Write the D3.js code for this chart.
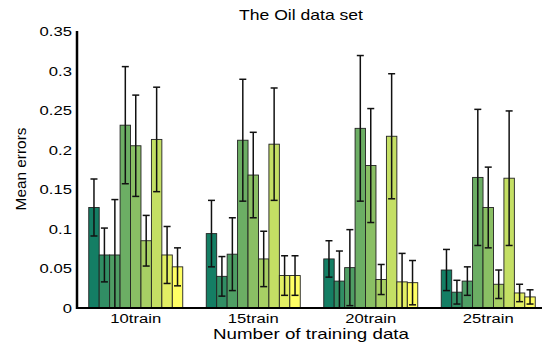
<!DOCTYPE html>
<html>
<head>
<meta charset="utf-8">
<script src="https://cdn.jsdelivr.net/npm/d3@7"></script>
<style>
  body { margin: 0; background: #fff; }
  svg { display: block; font-family: "Liberation Sans", Arial, sans-serif; }
</style>
</head>
<body>
<svg id="chart" width="542" height="345"></svg>
<script>
// groups on the x axis
var groups = ['10train', '15train', '20train', '25train'];

// mean errors, one array per method (9 methods)
var m1 = [0.127, 0.094, 0.062, 0.048];
var m2 = [0.067, 0.040, 0.034, 0.020];
var m3 = [0.067, 0.068, 0.051, 0.034];
var m4 = [0.231, 0.212, 0.227, 0.165];
var m5 = [0.205, 0.168, 0.180, 0.127];
var m6 = [0.085, 0.062, 0.036, 0.030];
var m7 = [0.213, 0.207, 0.217, 0.164];
var m8 = [0.067, 0.041, 0.033, 0.019];
var m9 = [0.052, 0.041, 0.032, 0.014];

// error half-widths
var e1 = [0.036, 0.042, 0.023, 0.026];
var e2 = [0.034, 0.025, 0.038, 0.015];
var e3 = [0.070, 0.046, 0.048, 0.018];
var e4 = [0.074, 0.077, 0.092, 0.086];
var e5 = [0.064, 0.054, 0.072, 0.051];
var e6 = [0.032, 0.035, 0.019, 0.018];
var e7 = [0.066, 0.071, 0.079, 0.085];
var e8 = [0.036, 0.025, 0.036, 0.011];
var e9 = [0.024, 0.025, 0.028, 0.009];

var yTicks = [0, 0.05, 0.1, 0.15, 0.2, 0.25, 0.3, 0.35];

var means = [m1, m2, m3, m4, m5, m6, m7, m8, m9];
var errs = [e1, e2, e3, e4, e5, e6, e7, e8, e9];
var nSeries = means.length;

var svg = d3.select('#chart');

// plot area
var plotLeft = 77, plotRight = 547, plotTop = 31, plotBottom = 308;

var x = d3.scaleLinear().domain([0.5, 4.5]).range([plotLeft, plotRight]);
var y = d3.scaleLinear().domain([0, 0.35]).range([plotBottom, plotTop]);

// summer colormap
var color = function(i) {
  var t = i / (nSeries - 1);
  return d3.rgb(20 + 235 * t, 126 + 129 * (t), 100).toString();
};

var groupWidth = 0.8;
var barW = groupWidth / nSeries;

// the original figure text is stretched sideways
function stretch(sel, k) {
  sel.each(function() {
    var len = this.getComputedTextLength();
    d3.select(this)
      .attr('textLength', len * k)
      .attr('lengthAdjust', 'spacingAndGlyphs');
  });
}

svg.append('clipPath').attr('id', 'plotClip')
  .append('rect')
  .attr('x', plotLeft).attr('y', plotTop)
  .attr('width', plotRight - plotLeft).attr('height', plotBottom - plotTop);

var plot = svg.append('g').attr('clip-path', 'url(#plotClip)');

// flatten into bar records
var bars = [];
means.forEach(function(series, s) {
  series.forEach(function(v, g) {
    bars.push({ s: s, g: g, v: v, e: errs[s][g] });
  });
});

function barX(d) {
  return (d.g + 1) - groupWidth / 2 + d.s * barW;
}

plot.selectAll('rect.bar')
  .data(bars)
  .enter()
  .append('rect')
  .attr('class', 'bar')
  .attr('x', function(d) { return x(barX(d)); })
  .attr('width', function(d) { return x(barX(d) + barW) - x(barX(d)); })
  .attr('y', function(d) { return y(d.v); })
  .attr('height', function(d) { return y(0) - y(d.v); })
  .attr('fill', function(d) { return color(d.s); })
  .attr('stroke', '#222')
  .attr('stroke-width', 0.9);

// error bars
var cap = 3.5;
var eb = plot.selectAll('g.err')
  .data(bars)
  .enter()
  .append('g')
  .attr('class', 'err')
  .attr('stroke', '#111')
  .attr('stroke-width', 1.5);

eb.append('line')
  .attr('x1', function(d) { return x(barX(d) + barW / 2); })
  .attr('x2', function(d) { return x(barX(d) + barW / 2); })
  .attr('y1', function(d) { return y(d.v - d.e); })
  .attr('y2', function(d) { return y(d.v + d.e); });

eb.append('line')
  .attr('x1', function(d) { return x(barX(d) + barW / 2) - cap; })
  .attr('x2', function(d) { return x(barX(d) + barW / 2) + cap; })
  .attr('y1', function(d) { return y(d.v + d.e); })
  .attr('y2', function(d) { return y(d.v + d.e); });

eb.append('line')
  .attr('x1', function(d) { return x(barX(d) + barW / 2) - cap; })
  .attr('x2', function(d) { return x(barX(d) + barW / 2) + cap; })
  .attr('y1', function(d) { return y(d.v - d.e); })
  .attr('y2', function(d) { return y(d.v - d.e); });

// axes lines
svg.append('line')
  .attr('x1', plotLeft).attr('x2', plotLeft)
  .attr('y1', plotTop).attr('y2', plotBottom + 1)
  .attr('stroke', '#000').attr('stroke-width', 2.5);
svg.append('line')
  .attr('x1', plotLeft - 1).attr('x2', plotRight)
  .attr('y1', plotBottom).attr('y2', plotBottom)
  .attr('stroke', '#000').attr('stroke-width', 2.2);

// y tick labels
svg.selectAll('text.ytick')
  .data(yTicks)
  .enter()
  .append('text')
  .attr('class', 'ytick')
  .attr('x', plotLeft - 5)
  .attr('y', function(d) { return y(d) + 5; })
  .attr('text-anchor', 'end')
  .attr('font-size', '12.5px')
  .text(function(d) { return d === 0 ? '0' : String(d); })
  .call(stretch, 1.33);

// x tick labels
svg.selectAll('text.xtick')
  .data(groups)
  .enter()
  .append('text')
  .attr('class', 'xtick')
  .attr('x', function(d, i) { return x(i + 1); })
  .attr('y', 323)
  .attr('text-anchor', 'middle')
  .attr('font-size', '12.5px')
  .text(function(d) { return d; })
  .call(stretch, 1.33);

// title and axis labels
svg.append('text')
  .attr('x', 301).attr('y', 20)
  .attr('text-anchor', 'middle')
  .attr('font-size', '15px')
  .text('The Oil data set')
  .call(stretch, 1.17);

svg.append('text')
  .attr('x', 311).attr('y', 339)
  .attr('text-anchor', 'middle')
  .attr('font-size', '15px')
  .text('Number of training data')
  .call(stretch, 1.25);

svg.append('text')
  .attr('transform', 'translate(26,169) rotate(-90)')
  .attr('text-anchor', 'middle')
  .attr('font-size', '14.5px')
  .text('Mean errors')
  .call(stretch, 1.06);
</script>
</body>
</html>
